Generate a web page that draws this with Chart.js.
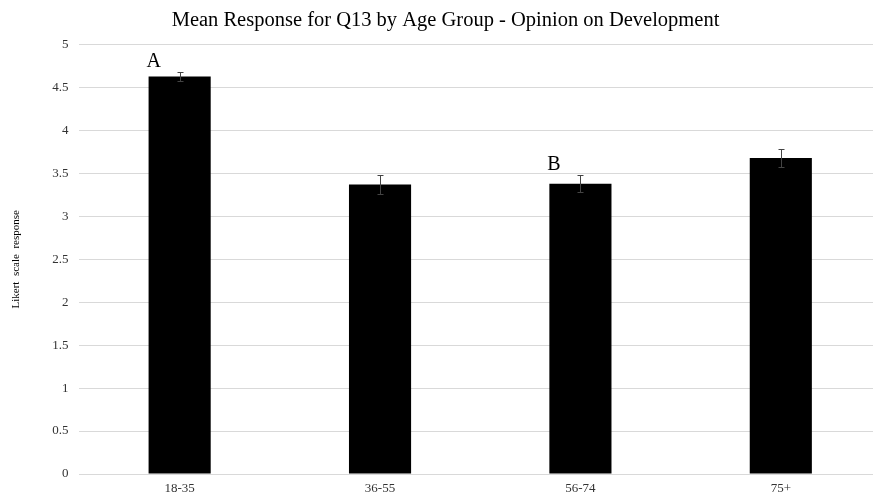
<!DOCTYPE html>
<html>
<head>
<meta charset="utf-8">
<script src="https://cdn.jsdelivr.net/npm/chart.js@4"></script>
<style>
  html, body { margin: 0; padding: 0; background: #fff; overflow: hidden; }
  #wrap { width: 881px; height: 500px; }
</style>
</head>
<body>
<div id="wrap"><canvas id="chart"></canvas></div>
<script>
// age groups and mean responses for Q13
const ageGroups = ['18-35', '36-55', '56-74', '75+'];
const meanResponse = [4.63, 3.37, 3.38, 3.68];
const stdError = [0.05, 0.115, 0.1, 0.1];
const groupLetters = ['A', '', 'B', ''];

const serif = '"Liberation Serif", "Times New Roman", serif';

// error whiskers and letter labels on top of the bars
const extras = {
  id: 'extras',
  afterDatasetsDraw(chart) {
    const ctx = chart.ctx;
    const y = chart.scales.y;
    const meta = chart.getDatasetMeta(0);
    ctx.save();
    meta.data.forEach((bar, i) => {
      const top = Math.round(y.getPixelForValue(meanResponse[i] + stdError[i])) + 0.5;
      const bot = Math.round(y.getPixelForValue(meanResponse[i] - stdError[i])) + 0.5;
      const x = Math.round(bar.x) + 0.5;
      ctx.strokeStyle = '#444';
      ctx.lineWidth = 1;
      ctx.beginPath();
      ctx.moveTo(x, top); ctx.lineTo(x, bot);
      ctx.moveTo(x - 3, top); ctx.lineTo(x + 3, top);
      ctx.moveTo(x - 3, bot); ctx.lineTo(x + 3, bot);
      ctx.stroke();
      if (groupLetters[i]) {
        ctx.fillStyle = '#000';
        ctx.font = '20px ' + serif;
        ctx.textAlign = 'left';
        ctx.textBaseline = 'alphabetic';
        ctx.fillText(groupLetters[i], bar.x - bar.width / 2 - 2, top - 6);
      }
    });
    ctx.restore();
  }
};

new Chart(document.getElementById('chart'), {
  type: 'bar',
  data: {
    labels: ageGroups,
    datasets: [{
      data: meanResponse,
      backgroundColor: '#000',
      borderColor: '#000',
      categoryPercentage: 1,
      barPercentage: 0.31
    }]
  },
  options: {
    responsive: true,
    maintainAspectRatio: false,
    animation: false,
    layout: { padding: { top: 8, right: 0, left: 10, bottom: -3 } },
    plugins: {
      legend: { display: false },
      tooltip: { enabled: false },
      title: {
        display: true,
        text: 'Mean Response for Q13 by Age Group - Opinion on Development',
        color: '#000',
        font: { family: serif, size: 20.5, weight: 'normal' },
        padding: { top: 0, bottom: 12 }
      }
    },
    scales: {
      x: {
        grid: { display: false, drawTicks: false },
        border: { color: '#d9d9d9' },
        ticks: { color: '#333', font: { family: serif, size: 13, lineHeight: 1 }, padding: 8 }
      },
      y: {
        min: 0,
        max: 5,
        ticks: {
          stepSize: 0.5,
          color: '#333',
          font: { family: serif, size: 13 },
          padding: 11,
          callback: v => String(v)
        },
        grid: { color: '#d9d9d9', drawTicks: false },
        border: { display: false },
        title: {
          display: true,
          text: 'Likert  scale  response',
          color: '#000',
          font: { family: serif, size: 11 },
          padding: { top: 0, bottom: 18 }
        }
      }
    }
  },
  plugins: [extras]
});
</script>
</body>
</html>
